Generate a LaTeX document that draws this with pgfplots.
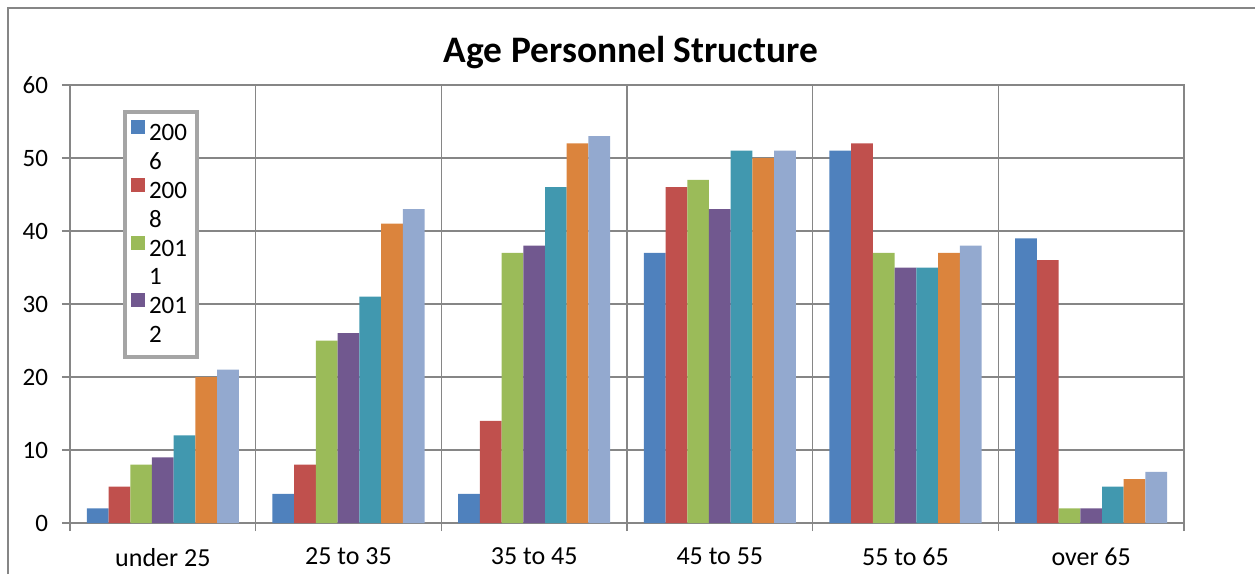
\documentclass[border=0pt]{standalone}
\usepackage{fontspec}
\setmainfont{Carlito}
\usepackage{pgfplots}
\usepackage{pgfplotstable}
\pgfplotsset{compat=1.18}
\definecolor{c1}{HTML}{4F81BD}
\definecolor{c2}{HTML}{C0504D}
\definecolor{c3}{HTML}{9BBB59}
\definecolor{c4}{HTML}{71588F}
\definecolor{c5}{HTML}{4198AF}
\definecolor{c6}{HTML}{DB843D}
\definecolor{c7}{HTML}{93A9CF}
\definecolor{gridc}{HTML}{868686}
\definecolor{legc}{HTML}{A5A5A5}
\pgfplotstableread{
x a b c d e f g
0.5 2 5 8 9 12 20 21
1.5 4 8 25 26 31 41 43
2.5 4 14 37 38 46 52 53
3.5 37 46 47 43 51 50 51
4.5 51 52 37 35 35 37 38
5.5 39 36 2 2 5 6 7
}\datatable
\begin{document}
\begin{tikzpicture}
\path[use as bounding box] (0,0) rectangle (627.5pt,287pt);
\draw[gridc, line width=0.75pt] (4pt,0) -- (4pt,283pt) -- (627.5pt,283pt);
\node[font=\fontsize{18.7}{22}\selectfont\bfseries] at (315.5pt,260.5pt) {Age Personnel Structure};
\begin{axis}[
  at={(35pt,25.5pt)}, anchor=south west,
  scale only axis, width=557pt, height=219pt,
  font=\fontsize{12.5}{15}\selectfont,
  /pgf/number format/assume math mode=true,
  ybar=0pt, bar width=10.86pt,
  xmin=0, xmax=6, ymin=0, ymax=60,
  enlargelimits=false,
  ytick={0,10,...,60},
  yticklabel style={xshift=-3.5pt},
  xtick={0,1,...,6}, xticklabels={},
  extra x ticks={0.5,1.5,...,5.5},
  extra x tick labels={under 25,25 to 35,35 to 45,45 to 55,55 to 65,over 65},
  extra x tick style={major tick length=0pt, grid=none, xticklabel style={yshift=-9pt, font=\fontsize{13}{15}\selectfont}},
  xtick pos=bottom, ytick pos=left,
  xmajorgrids, ymajorgrids,
  grid style={gridc, line width=0.75pt},
  axis line style={gridc, line width=0.75pt},
  tick style={gridc, line width=0.75pt},
  tick align=outside, major tick length=4pt,
  legend style={at={(0.0476,0.943)}, anchor=north west, draw=legc, line width=2pt,
    font=\fontsize{12.5}{15}\selectfont, row sep=0.6pt, inner xsep=3pt, inner ysep=4pt},
  legend cell align=left,
  legend image code/.code={\fill[#1] (0pt,0pt) rectangle (7pt,7pt);},
]
\addlegendimage{fill=c1, draw=none}
\addlegendimage{empty legend}
\addlegendimage{fill=c2, draw=none}
\addlegendimage{empty legend}
\addlegendimage{fill=c3, draw=none}
\addlegendimage{empty legend}
\addlegendimage{fill=c4, draw=none}
\addlegendimage{empty legend}
\addplot[fill=c1, draw=none] table[x=x,y=a] {\datatable};
\addplot[fill=c2, draw=none] table[x=x,y=b] {\datatable};
\addplot[fill=c3, draw=none] table[x=x,y=c] {\datatable};
\addplot[fill=c4, draw=none] table[x=x,y=d] {\datatable};
\addplot[fill=c5, draw=none] table[x=x,y=e] {\datatable};
\addplot[fill=c6, draw=none] table[x=x,y=f] {\datatable};
\addplot[fill=c7, draw=none] table[x=x,y=g] {\datatable};
\legend{200,6,200,8,201,1,201,2}
\end{axis}
\end{tikzpicture}
\end{document}
